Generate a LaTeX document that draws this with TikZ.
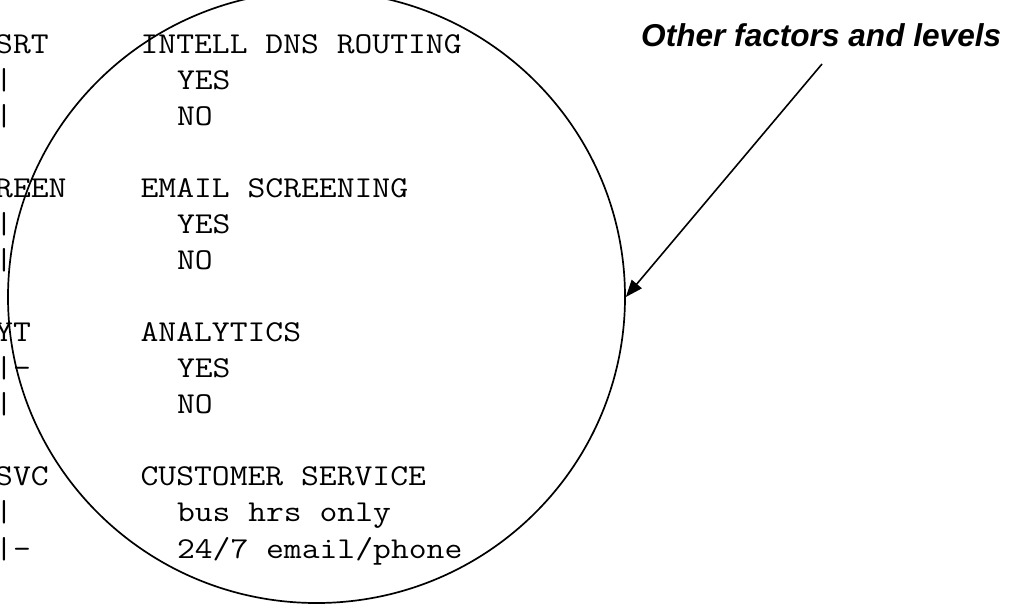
\documentclass[tikz,border=0pt]{standalone}
\usepackage{fontspec}
\setmainfont{Liberation Sans}
\setmonofont[FakeStretch=1.143]{Latin Modern Mono}
\usetikzlibrary{arrows.meta,shapes.geometric}
\begin{document}
\begin{tikzpicture}[x=1pt,y=-1pt,
  mono/.style={font=\ttfamily\fontsize{30.3}{30.3}\selectfont, inner sep=0pt, anchor=base west},
  lbl/.style={font=\fontsize{31.6}{31.6}\selectfont\bfseries\itshape, inner sep=0pt, anchor=base west},
  ring/.style={draw, line width=1.7pt, ellipse, minimum width=617pt, minimum height=612pt, inner sep=0pt},
  pointer/.style={line width=1.6pt, -{Triangle[length=17pt,width=13pt]}}]
\useasboundingbox (0,0) rectangle (1014,605);
\clip (0,0) rectangle (1014,605);
% left column (cut off)
\node[mono] (l0)  at (-5,53)    {SRT};
\node[mono] (l1)  at (-5,89.1)  {|};
\node[mono] (l2)  at (-5,125.1) {|};
\node[mono] (l4)  at (-5,197.3) {REEN};
\node[mono] (l5)  at (-5,233.4) {|};
\node[mono] (l6)  at (-5,269.4) {|};
\node[mono] (l8)  at (-5,341.6) {YT};
\node[mono] (l9)  at (-5,377.6) {|-};
\node[mono] (l10) at (-5,413.7) {|};
\node[mono] (l12) at (-5,485.8) {SVC};
\node[mono] (l13) at (-5,521.9) {|};
\node[mono] (l14) at (-5,558)   {|-};
% factors
\node[mono] (f0)  at (140.4,53)    {INTELL DNS ROUTING};
\node[mono] (v1)  at (176.8,89.1)  {YES};
\node[mono] (v2)  at (176.8,125.1) {NO};
\node[mono] (f4)  at (140.4,197.3) {EMAIL SCREENING};
\node[mono] (v5)  at (176.8,233.4) {YES};
\node[mono] (v6)  at (176.8,269.4) {NO};
\node[mono] (f8)  at (140.4,341.6) {ANALYTICS};
\node[mono] (v9)  at (176.8,377.6) {YES};
\node[mono] (v10) at (176.8,413.7) {NO};
\node[mono] (f12) at (140.4,485.8) {CUSTOMER SERVICE};
\node[mono] (v13) at (176.8,521.9) {bus hrs only};
\node[mono] (v14) at (176.8,558)   {24/7 email/phone};
% ring
\node[ring] (ring) at (316.5,297) {};
% label and arrow
\node[lbl] (title) at (641,46) {Other factors and levels};
\coordinate (tail) at (822,64);
\draw[pointer] (tail) -- (ring.east);
\end{tikzpicture}
\end{document}
